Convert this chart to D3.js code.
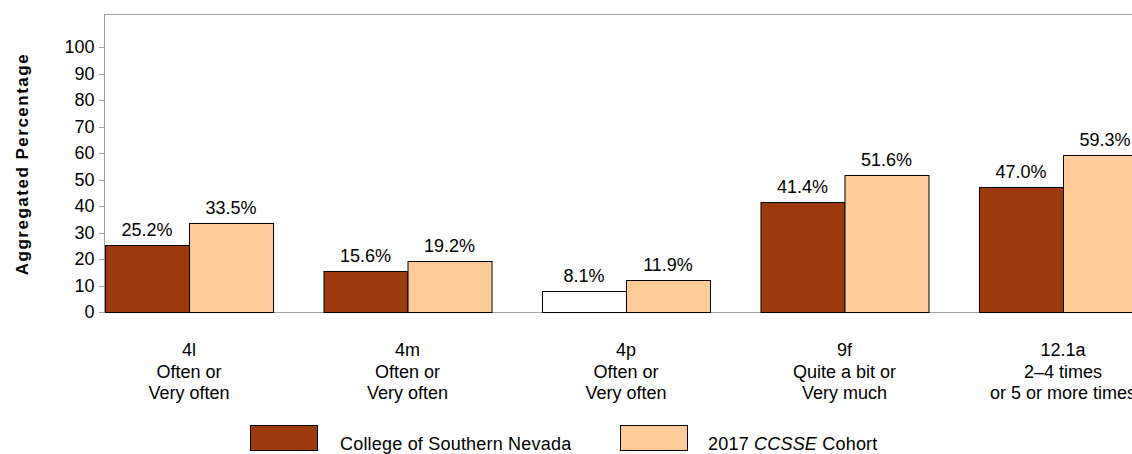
<!DOCTYPE html>
<meta charset="utf-8">
<style>
  body { margin: 0; background: #fff; }
  svg { display: block; font-family: "Liberation Sans", Arial, sans-serif; }
  .axis path, .axis line { stroke: #a0a0a0; shape-rendering: crispEdges; }
  .axis text { font-size: 18px; fill: #000; }
</style>
<svg width="1132" height="454"></svg>
<script src="https://cdn.jsdelivr.net/npm/d3@7"></script>
<script>
  // data
  var categories = ["4l", "4m", "4p", "9f", "12.1a"];
  var catLines = [
    ["4l", "Often or", "Very often"],
    ["4m", "Often or", "Very often"],
    ["4p", "Often or", "Very often"],
    ["9f", "Quite a bit or", "Very much"],
    ["12.1a", "2\u20134 times", "or 5 or more times"]
  ];
  var college = [25.2, 15.6, 8.1, 41.4, 47.0];
  var cohort = [33.5, 19.2, 11.9, 51.6, 59.3];
  var seriesNames = ["College of Southern Nevada", "2017 CCSSE Cohort"];
  var yTicks = [0, 10, 20, 30, 40, 50, 60, 70, 80, 90, 100];

  var svg = d3.select("svg");
  var top0 = 14, bottom = 312;
  var left = 104;

  var y = d3.scaleLinear().domain([0, 100]).range([bottom, 47]);
  var x0 = d3.scaleBand().domain(categories).range([105, 1147])
    .paddingInner(0.231).paddingOuter(0);
  var x1 = d3.scaleBand().domain([0, 1]).range([0, x0.bandwidth()]);
  var colors = ["#9C3A0D", "#FFCC99"];

  // frame top line
  svg.append("line")
    .attr("x1", left).attr("x2", 1132).attr("y1", top0 + 0.5).attr("y2", top0 + 0.5)
    .attr("stroke", "#a0a0a0");

  // y axis
  var yAxis = svg.append("g")
    .attr("class", "axis")
    .attr("transform", "translate(" + (left + 0.5) + ",0)")
    .call(d3.axisLeft(y).tickValues(yTicks).tickSizeInner(6).tickSizeOuter(0).tickPadding(4));
  yAxis.select(".domain").attr("d", "M0," + top0 + "V" + bottom);

  // baseline
  svg.append("line")
    .attr("x1", left).attr("x2", 1132).attr("y1", bottom + 0.5).attr("y2", bottom + 0.5)
    .attr("stroke", "#a0a0a0");

  // y title
  svg.append("text")
    .attr("transform", "translate(28,164) rotate(-90)")
    .attr("text-anchor", "middle")
    .style("font-size", "17px")
    .style("font-weight", "bold")
    .style("letter-spacing", "1.5px")
    .text("Aggregated Percentage");

  var rows = categories.map(function (c, i) {
    return { cat: c, vals: [college[i], cohort[i]] };
  });

  var groups = svg.selectAll(".grp").data(rows).enter().append("g")
    .attr("class", "grp")
    .attr("transform", function (d) { return "translate(" + x0(d.cat) + ",0)"; });

  groups.selectAll("rect")
    .data(function (d) { return d.vals.map(function (v, k) { return { k: k, v: v, cat: d.cat }; }); })
    .enter().append("rect")
    .attr("x", function (d) { return x1(d.k) + 0.5; })
    .attr("y", function (d) { return Math.round(y(d.v)) + 0.5; })
    .attr("width", x1.bandwidth())
    .attr("height", function (d) { return bottom - Math.round(y(d.v)); })
    .attr("fill", function (d) { return (d.cat === "4p" && d.k === 0) ? "#fff" : colors[d.k]; })
    .attr("stroke", "#000")
    .attr("stroke-width", 1);

  groups.selectAll(".val")
    .data(function (d) { return d.vals.map(function (v, k) { return { k: k, v: v }; }); })
    .enter().append("text")
    .attr("x", function (d) { return x1(d.k) + x1.bandwidth() / 2; })
    .attr("y", function (d) { return y(d.v) - 9; })
    .attr("text-anchor", "middle")
    .style("font-size", "18px")
    .text(function (d) { return d.v.toFixed(1) + "%"; });

  // category labels
  var catText = svg.selectAll(".cat").data(catLines).enter().append("text")
    .attr("class", "cat")
    .attr("text-anchor", "middle")
    .style("font-size", "18px")
    .attr("x", function (d, i) { return x0(categories[i]) + x0.bandwidth() / 2; })
    .attr("y", 356);
  catText.selectAll("tspan").data(function (d) { return d; }).enter().append("tspan")
    .attr("x", function () { return d3.select(this.parentNode).attr("x"); })
    .attr("dy", function (d, j) { return j === 0 ? 0 : 21.5; })
    .text(function (d) { return d; });

  // legend
  var legX = [250, 620];
  var leg = svg.selectAll(".leg").data(seriesNames).enter().append("g")
    .attr("transform", function (d, i) { return "translate(" + legX[i] + ",425)"; });
  leg.append("rect")
    .attr("x", 0.5).attr("y", 0.5).attr("width", 67).attr("height", 25)
    .attr("fill", function (d, i) { return colors[i]; })
    .attr("stroke", "#000");
  var legText = leg.append("text")
    .attr("x", function (d, i) { return i === 0 ? 90 : 88; })
    .attr("y", 25)
    .style("font-size", "18px")
    .style("letter-spacing", "0.2px");
  legText.filter(function (d, i) { return i === 0; }).text(function (d) { return d; });
  legText.filter(function (d, i) { return i === 1; }).each(function () {
    var t = d3.select(this);
    t.append("tspan").text("2017 ");
    t.append("tspan").style("font-style", "italic").text("CCSSE");
    t.append("tspan").text(" Cohort");
  });
</script>
